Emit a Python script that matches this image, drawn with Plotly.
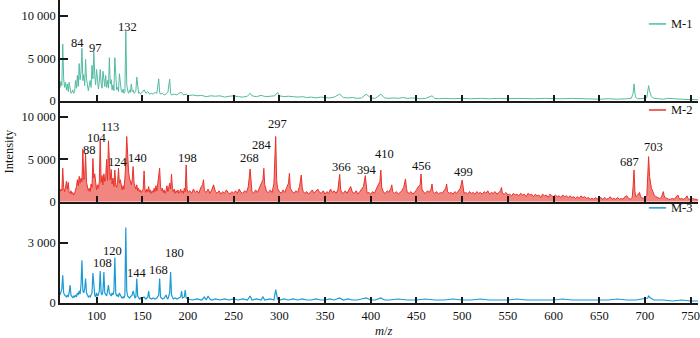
import plotly.graph_objects as go
from plotly.subplots import make_subplots

# ---------------- data (m/z, intensity) ----------------
m1_mz = [60, 61, 62, 63, 64, 65, 66, 67, 68, 69,
         70, 71, 72, 73, 74, 75, 76, 77, 78, 79,
         80, 81, 82, 83, 84, 85, 86, 87, 88, 89,
         90, 91, 92, 93, 94, 95, 96, 97, 98, 99,
         100, 101, 102, 103, 104, 105, 106, 107, 108, 109,
         110, 111, 112, 113, 114, 115, 116, 117, 118, 119,
         120, 121, 122, 123, 124, 125, 126, 127, 128, 129,
         130, 131, 132, 133, 134, 135, 136, 137, 138, 139,
         140, 141, 142, 143, 144, 145, 146, 147, 148, 149,
         150, 152, 154, 156, 158, 160, 162, 164, 166, 168,
         169, 170, 172, 174, 176, 178, 180, 181, 182, 185,
         188, 190, 193, 195, 198, 200, 205, 210, 215, 220,
         225, 230, 235, 240, 245, 250, 255, 260, 265, 268,
         270, 275, 280, 285, 290, 295, 298, 300, 305, 310,
         315, 320, 325, 330, 335, 340, 345, 350, 355, 360,
         366, 370, 375, 380, 385, 390, 395, 400, 405, 411,
         415, 420, 425, 430, 435, 440, 445, 450, 455, 460,
         467, 470, 475, 480, 490, 500, 510, 520, 530, 540,
         550, 560, 570, 580, 590, 600, 610, 620, 630, 640,
         650, 660, 670, 680, 685, 687, 688, 689, 690, 692,
         695, 700, 702, 703, 704, 705, 706, 707, 708, 710,
         715, 720, 725, 730, 740, 750, 758]
m1_int = [1500, 2300, 1800, 6700, 2600, 1600, 2200, 1300, 2000, 1100,
          2200, 1200, 900, 1000, 1300, 900, 1100, 2400, 1500, 3000,
          1700, 4400, 2500, 3400, 6200, 2400, 3100, 1800, 4900, 2600,
          1500, 1200, 1800, 2400, 1600, 4200, 2600, 5800, 3100, 1900,
          3700, 2000, 1400, 2200, 3700, 2100, 1500, 3500, 2000, 1700,
          3000, 1600, 2400, 1500, 5100, 2000, 2500, 1300, 1900, 1200,
          5100, 2200, 1300, 1600, 1100, 3200, 1500, 1200, 1000, 1400,
          900, 1100, 8200, 2000, 1200, 900, 1300, 1000, 2000, 1100,
          1300, 900, 1000, 1200, 2800, 1200, 900, 1000, 800, 900,
          1000, 1300, 900, 1100, 800, 900, 800, 1000, 900, 2600,
          1000, 800, 900, 700, 800, 1000, 2560, 900, 700, 800,
          700, 900, 1000, 700, 800, 600, 700, 600, 650, 500,
          600, 550, 600, 450, 550, 600, 500, 450, 550, 900,
          600, 500, 650, 500, 550, 600, 1000, 600, 500, 550,
          500, 450, 500, 400, 450, 350, 450, 400, 350, 450,
          800, 400, 350, 400, 300, 350, 800, 350, 300, 800,
          350, 300, 350, 300, 400, 300, 350, 300, 250, 300,
          600, 300, 250, 300, 250, 300, 250, 300, 250, 300,
          250, 300, 250, 250, 300, 250, 250, 300, 250, 250,
          200, 250, 200, 250, 300, 900, 2000, 900, 400, 250,
          250, 300, 400, 900, 1800, 1200, 800, 500, 400, 300,
          250, 200, 300, 250, 200, 150, 150]

m2_mz = [60, 61, 62, 63, 64, 65, 66, 67, 68, 69,
         70, 71, 72, 73, 74, 75, 76, 77, 78, 79,
         80, 81, 82, 83, 84, 85, 86, 87, 88, 89,
         90, 91, 92, 93, 94, 95, 96, 97, 98, 99,
         100, 101, 102, 103, 104, 105, 106, 107, 108, 109,
         110, 111, 112, 113, 114, 115, 116, 117, 118, 119,
         120, 121, 122, 123, 124, 125, 126, 127, 128, 129,
         130, 131, 132, 133, 134, 135, 136, 137, 138, 139,
         140, 141, 142, 143, 144, 145, 146, 147, 148, 149,
         150, 151, 152, 153, 154, 155, 156, 157, 158, 159,
         160, 161, 162, 163, 164, 165, 166, 167, 168, 169,
         170, 171, 172, 173, 174, 175, 176, 177, 178, 179,
         180, 181, 182, 183, 184, 185, 186, 187, 188, 189,
         190, 191, 192, 193, 194, 195, 196, 197, 198, 199,
         200, 202, 204, 206, 208, 210, 212, 214, 216, 217,
         218, 220, 222, 224, 226, 228, 230, 232, 234, 236,
         238, 240, 242, 244, 246, 248, 250, 252, 254, 256,
         258, 260, 262, 264, 266, 268, 269, 270, 272, 274,
         276, 278, 280, 282, 283, 284, 286, 288, 290, 292,
         294, 296, 297, 298, 300, 302, 304, 306, 308, 310,
         311, 312, 314, 316, 318, 320, 322, 324, 325, 326,
         328, 330, 332, 334, 336, 338, 340, 342, 344, 346,
         348, 350, 352, 354, 356, 358, 360, 362, 364, 366,
         367, 368, 370, 372, 374, 376, 378, 380, 382, 384,
         386, 388, 390, 392, 394, 395, 396, 398, 400, 402,
         404, 406, 408, 410, 411, 412, 414, 416, 418, 420,
         422, 423, 424, 426, 428, 430, 432, 434, 436, 438,
         439, 440, 442, 444, 446, 448, 450, 452, 454, 455,
         456, 458, 460, 462, 464, 466, 467, 468, 470, 472,
         474, 476, 478, 480, 482, 483, 484, 486, 488, 490,
         492, 494, 496, 498, 500, 501, 502, 504, 506, 508,
         510, 512, 514, 516, 518, 520, 522, 524, 526, 528,
         530, 532, 534, 536, 538, 540, 542, 543, 544, 546,
         548, 550, 552, 554, 556, 558, 560, 562, 564, 566,
         568, 570, 572, 574, 576, 578, 580, 582, 584, 586,
         588, 590, 592, 594, 596, 598, 600, 602, 604, 606,
         608, 610, 612, 614, 616, 618, 620, 622, 624, 626,
         628, 630, 632, 634, 636, 638, 640, 642, 644, 646,
         648, 650, 652, 654, 656, 658, 660, 662, 664, 666,
         668, 670, 672, 674, 676, 678, 680, 682, 684, 686,
         687, 688, 689, 690, 692, 694, 695, 696, 698, 700,
         702, 703, 704, 705, 706, 707, 708, 709, 710, 712,
         714, 716, 718, 720, 721, 722, 724, 726, 728, 730,
         732, 734, 736, 737, 738, 740, 742, 744, 746, 747,
         748, 750, 752, 754, 756, 758]
m2_int = [1200, 1500, 1300, 3960, 1700, 1200, 1600, 2400, 1500, 2300,
          1200, 1000, 1300, 900, 1100, 800, 1000, 1300, 1800, 2600,
          1900, 3000, 2200, 2800, 2400, 6200, 2600, 3000, 5700, 2300,
          1700, 1300, 1600, 1200, 2100, 1700, 5100, 2800, 3300, 1800,
          1400, 2000, 1600, 2400, 7300, 2300, 3100, 2000, 3300, 2400,
          2900, 5000, 2500, 7200, 3300, 2600, 3800, 2100, 2800, 1800,
          3750, 2000, 1700, 2300, 3950, 2200, 2600, 1600, 1400, 1900,
          1500, 2800, 4500, 7700, 5200, 3600, 2800, 2400, 2000, 2600,
          4150, 2200, 1800, 1500, 2000, 1300, 1600, 1200, 1400, 1100,
          1300, 1500, 3640, 1400, 1100, 1500, 1200, 1800, 1100, 1400,
          1000, 1300, 1100, 1600, 1200, 1900, 1300, 2200, 2600, 3960,
          1800, 1300, 1600, 1100, 1400, 1000, 1300, 1900, 1200, 1700,
          2200, 1500, 3280, 1600, 1200, 1500, 1000, 1300, 1100, 1400,
          1000, 1200, 1500, 1100, 1300, 1000, 1600, 1200, 4350, 1500,
          1100, 1300, 1000, 1500, 1100, 1300, 1000, 1700, 2000, 2600,
          1300, 1100, 1500, 1000, 1400, 2000, 1200, 1000, 1300, 900,
          1200, 1000, 1400, 1100, 900, 1200, 1000, 1300, 1000, 1500,
          1100, 1000, 1300, 1100, 1800, 3870, 1800, 1200, 1000, 1400,
          1100, 1600, 2000, 2600, 3950, 2000, 1200, 1100, 1400, 1100,
          2100, 7700, 2600, 1600, 1200, 1000, 1400, 1100, 1700, 2200,
          3360, 1600, 1200, 1000, 1300, 1100, 1800, 3150, 1700, 1200,
          1000, 1200, 900, 1100, 1400, 1000, 1300, 1500, 1100, 1000,
          1300, 900, 1200, 1000, 1500, 1100, 1300, 1000, 1400, 3240,
          1500, 1100, 1000, 1300, 1000, 1400, 1800, 1100, 1000, 1300,
          900, 1200, 1500, 1800, 3080, 1400, 1000, 1100, 900, 1200,
          1000, 1500, 2000, 2400, 3750, 1700, 1100, 1000, 1300, 1100,
          1600, 2000, 1200, 1000, 1200, 900, 1100, 1300, 1700, 2700,
          1600, 1100, 1000, 1200, 900, 1100, 1400, 1800, 2000, 3280,
          1500, 1100, 1000, 1300, 1100, 1500, 2100, 1200, 1000, 1200,
          900, 1100, 1000, 1300, 1600, 2100, 1200, 1000, 1100, 900,
          1200, 1000, 1300, 1600, 2570, 1300, 1000, 1100, 900, 1200,
          1000, 1100, 900, 1200, 1000, 1100, 900, 1200, 1000, 1300,
          900, 1100, 1000, 1200, 900, 1100, 1300, 1700, 1000, 900,
          1100, 800, 900, 700, 1000, 800, 900, 700, 1000, 800,
          900, 600, 1000, 800, 900, 600, 900, 700, 800, 500,
          900, 700, 800, 500, 900, 700, 600, 800, 600, 700,
          500, 800, 600, 700, 500, 700, 500, 600, 400, 600,
          400, 700, 500, 600, 400, 500, 300, 400, 300, 500,
          300, 600, 400, 300, 500, 300, 400, 600, 300, 400,
          300, 500, 300, 400, 300, 600, 700, 400, 300, 500,
          1800, 3750, 1200, 600, 800, 1100, 700, 500, 400, 500,
          700, 2500, 5330, 3000, 2200, 1600, 1400, 1000, 800, 600,
          500, 400, 500, 1200, 700, 500, 400, 300, 300, 400,
          300, 500, 800, 500, 300, 400, 300, 400, 700, 400,
          300, 300, 400, 300, 300, 200]

m3_mz = [60, 61, 62, 63, 64, 65, 66, 67, 68, 69,
         70, 71, 72, 73, 74, 75, 76, 77, 78, 79,
         80, 81, 82, 83, 84, 85, 86, 87, 88, 89,
         90, 91, 92, 93, 94, 95, 96, 97, 98, 99,
         100, 101, 102, 103, 104, 105, 106, 107, 108, 109,
         110, 111, 112, 113, 114, 115, 116, 117, 118, 119,
         120, 121, 122, 123, 124, 125, 126, 127, 128, 129,
         130, 131, 132, 133, 134, 135, 136, 137, 138, 139,
         140, 141, 142, 143, 144, 145, 146, 147, 148, 149,
         150, 152, 154, 156, 157, 158, 160, 162, 164, 166,
         168, 169, 170, 172, 174, 176, 177, 178, 180, 181,
         182, 184, 186, 188, 190, 192, 193, 194, 196, 197,
         198, 200, 205, 210, 215, 218, 220, 222, 224, 226,
         230, 235, 240, 245, 250, 255, 260, 265, 268, 270,
         275, 280, 282, 284, 290, 294, 296, 298, 300, 305,
         310, 315, 320, 325, 330, 335, 340, 345, 350, 355,
         360, 366, 370, 375, 380, 385, 390, 395, 400, 405,
         411, 415, 420, 430, 440, 450, 460, 470, 480, 490,
         500, 510, 520, 530, 540, 550, 560, 570, 580, 590,
         600, 610, 620, 630, 640, 650, 660, 670, 680, 690,
         700, 703, 704, 706, 710, 720, 730, 740, 750, 758]
m3_int = [400, 600, 700, 1380, 500, 400, 350, 300, 400, 300,
          500, 900, 400, 300, 250, 350, 300, 400, 300, 500,
          400, 600, 450, 900, 2130, 600, 500, 700, 1220, 500,
          400, 300, 350, 300, 400, 500, 1500, 600, 400, 300,
          500, 350, 400, 600, 1600, 500, 400, 600, 1550, 500,
          400, 350, 600, 900, 500, 400, 350, 500, 400, 600,
          2270, 500, 350, 400, 300, 500, 350, 300, 250, 300,
          250, 400, 3770, 600, 350, 300, 250, 300, 350, 400,
          600, 300, 250, 300, 1220, 350, 250, 200, 250, 200,
          250, 300, 200, 300, 600, 250, 200, 250, 200, 250,
          400, 1220, 300, 200, 250, 400, 250, 200, 500, 1550,
          400, 200, 250, 200, 250, 300, 600, 250, 300, 650,
          250, 200, 150, 200, 150, 300, 150, 350, 200, 150,
          200, 150, 200, 150, 200, 150, 200, 150, 350, 150,
          200, 150, 300, 150, 200, 150, 670, 200, 150, 200,
          150, 200, 150, 200, 150, 150, 200, 150, 150, 200,
          150, 250, 150, 200, 150, 150, 200, 250, 150, 150,
          250, 150, 150, 200, 150, 150, 200, 150, 150, 200,
          150, 150, 200, 150, 150, 150, 200, 150, 150, 150,
          150, 200, 150, 150, 150, 150, 150, 200, 150, 150,
          200, 250, 350, 250, 150, 150, 100, 150, 100, 100]

assert len(m1_mz) == len(m1_int), (len(m1_mz), len(m1_int))
assert len(m2_mz) == len(m2_int), (len(m2_mz), len(m2_int))
assert len(m3_mz) == len(m3_int), (len(m3_mz), len(m3_int))

# peak labels: text, m/z position, intensity position
lab1_text = ["84", "97", "132"]
lab1_x = [79.3, 99, 134]
lab1_y = [6860, 6270, 8740]

lab2_text = ["88", "104", "113", "124", "140", "198", "268", "284", "297",
             "366", "394", "410", "456", "499", "687", "703"]
lab2_x = [92.0, 100.2, 114.7, 123.8, 145, 199.7, 267.2, 280.7, 297.8,
          367.5, 395.6, 414.9, 455, 501.4, 683, 709.3]
lab2_y = [6150, 7510, 8770, 4670, 5140, 5210, 5210, 6640, 9210,
          4150, 3760, 5620, 4270, 3480, 4740, 6520]

lab3_text = ["108", "120", "144", "168", "180"]
lab3_x = [106.7, 117.3, 144.6, 167.6, 185]
lab3_y = [2020, 2600, 1500, 1635, 2500]

series_names = ["M-1", "M-2", "M-3"]
colors = ["#52bba3", "#e8332b", "#1b9ad6"]

x_ticks = [100, 150, 200, 250, 300, 350, 400, 450, 500, 550, 600, 650, 700, 750]

# ---------------- figure ----------------
FONT = "Liberation Serif"
FS = 12.5
fig = make_subplots(rows=3, cols=1, shared_xaxes=True, vertical_spacing=0)

fig.add_trace(go.Scatter(x=m1_mz, y=m1_int, mode="lines", name=series_names[0],
                         line=dict(color=colors[0], width=1)), row=1, col=1)
fig.add_trace(go.Scatter(x=m2_mz, y=m2_int, mode="lines", name=series_names[1],
                         line=dict(color=colors[1], width=1),
                         fill="tozeroy", fillcolor="rgba(232,51,43,0.6)"), row=2, col=1)
fig.add_trace(go.Scatter(x=m3_mz, y=m3_int, mode="lines", name=series_names[2],
                         line=dict(color=colors[2], width=1.2)), row=3, col=1)

axis_common = dict(showline=True, linecolor="#1a1a1a", linewidth=1.5, showgrid=False,
                   zeroline=False, ticks="inside", tickcolor="#1a1a1a", tickwidth=1.5)

for r in (1, 2, 3):
    fig.update_xaxes(range=[60, 758], tickvals=x_ticks, ticklen=6,
                     showticklabels=(r == 3), ticklabeloverflow="allow",
                     row=r, col=1, **axis_common)

fig.update_yaxes(range=[0, 11900], tickvals=[0, 5000, 10000],
                 ticktext=["0", "5 000", "10 000"], ticklen=8, row=1, col=1, **axis_common)
fig.update_yaxes(range=[0, 11900], tickvals=[0, 5000, 10000],
                 ticktext=["0", "5 000", "10 000"], ticklen=8, row=2, col=1, **axis_common)
fig.update_yaxes(range=[0, 5050], tickvals=[0, 3000],
                 ticktext=["0", "3 000"], ticklen=8, row=3, col=1, **axis_common)

fig.update_layout(
    yaxis=dict(domain=[0.667, 1.0]),
    yaxis2=dict(domain=[0.334, 0.667]),
    yaxis3=dict(domain=[0.0, 0.334]),
    width=700, height=338,
    margin=dict(l=60, r=2, t=0, b=35),
    plot_bgcolor="white", paper_bgcolor="white",
    showlegend=False,
    font=dict(family=FONT, size=FS, color="#111111"),
)

# peak labels
for (txts, xs, ys, xr, yr) in [(lab1_text, lab1_x, lab1_y, "x", "y"),
                               (lab2_text, lab2_x, lab2_y, "x2", "y2"),
                               (lab3_text, lab3_x, lab3_y, "x3", "y3")]:
    for t, xv, yv in zip(txts, xs, ys):
        fig.add_annotation(x=xv, y=yv, xref=xr, yref=yr, text=t, showarrow=False,
                           font=dict(family=FONT, size=FS, color="#111111"),
                           xanchor="center", yanchor="middle")

# per-panel legends (line sample + name)
legend_y = [0.921, 0.637, 0.314]
for name, col, ly in zip(series_names, colors, legend_y):
    fig.add_shape(type="line", xref="paper", yref="paper", x0=0.923, x1=0.950,
                  y0=ly, y1=ly, line=dict(color=col, width=1.5))
    fig.add_annotation(x=0.955, y=ly, xref="paper", yref="paper", text=name,
                       showarrow=False, xanchor="left", yanchor="middle",
                       font=dict(family=FONT, size=FS, color="#111111"))

# axis titles
fig.add_annotation(x=-0.0815, y=0.50, xref="paper", yref="paper", text="Intensity",
                   textangle=-90, showarrow=False, xanchor="center", yanchor="middle",
                   font=dict(family=FONT, size=FS, color="#111111"))
fig.add_annotation(x=0.508, y=-0.092, xref="paper", yref="paper", text="<i>m</i>/<i>z</i>",
                   showarrow=False, xanchor="center", yanchor="middle",
                   font=dict(family=FONT, size=FS, color="#111111"))

fig.write_html("out.html")
